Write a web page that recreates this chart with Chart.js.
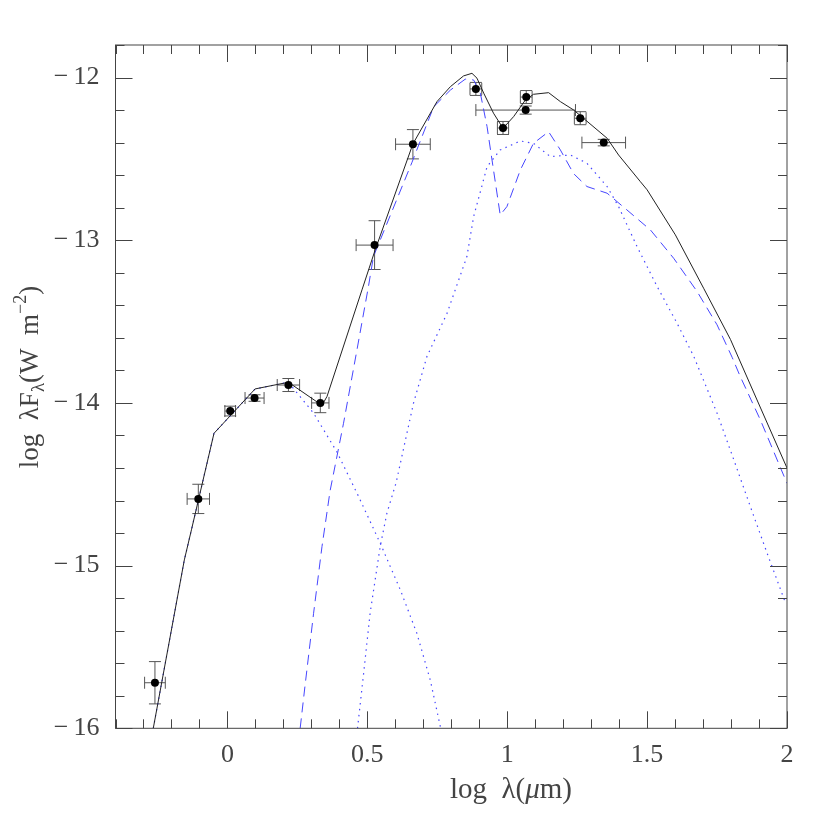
<!DOCTYPE html>
<html>
<head>
<meta charset="utf-8">
<script src="https://cdn.jsdelivr.net/npm/chart.js@4.4.0/dist/chart.umd.min.js"></script>
<style>
body { margin: 0; background: #fff; }
#wrap { width: 830px; height: 830px; }
</style>
</head>
<body>
<div id="wrap"><canvas id="sed" width="830" height="830"></canvas></div>
<script>
// observed photometry (log lambda, log lambda F_lambda) with errors
const obsX    = [-0.259, -0.104, 0.010, 0.097, 0.218, 0.332, 0.526, 0.663, 0.888, 0.985, 1.068, 1.066, 1.261, 1.345];
const obsY    = [-15.72, -14.59, -14.05, -13.97, -13.89, -14.00, -13.03, -12.41, -12.07, -12.31, -12.12, -12.20, -12.25, -12.40];
const obsXErr = [0.037, 0.040, 0.019, 0.034, 0.040, 0.031, 0.066, 0.062, 0.021, 0.020, 0.021, 0.178, 0.021, 0.078];
const obsYErr = [0.13, 0.09, 0.03, 0.02, 0.04, 0.06, 0.15, 0.09, 0.04, 0.04, 0.04, 0.025, 0.04, 0.02];

// total model (solid)
const totX = [-0.265, -0.154, -0.128, -0.048, 0.099, 0.218, 0.338, 0.356, 0.481, 0.528, 0.663, 0.749, 0.797, 0.844, 0.874, 0.892, 0.916, 0.951, 0.985, 1.023, 1.065, 1.094, 1.148, 1.19, 1.237, 1.357, 1.398, 1.476, 1.5, 1.601, 1.702, 1.798, 1.893, 2.0];
const totY = [-16.0, -14.965, -14.776, -14.187, -13.914, -13.873, -14.015, -13.96, -13.305, -13.06, -12.408, -12.148, -12.056, -11.99, -11.974, -12.004, -12.096, -12.219, -12.312, -12.24, -12.138, -12.103, -12.093, -12.148, -12.199, -12.373, -12.476, -12.64, -12.69, -12.967, -13.295, -13.61, -13.982, -14.40];

// dashed component
const dashX = [0.26, 0.277, 0.308, 0.338, 0.367, 0.415, 0.463, 0.504, 0.522, 0.659, 0.737, 0.797, 0.85, 0.88, 0.904, 0.928, 0.951, 0.975, 0.999, 1.047, 1.094, 1.148, 1.19, 1.237, 1.285, 1.357, 1.428, 1.512, 1.595, 1.679, 1.75, 1.804, 1.833, 1.905, 2.0];
const dashY = [-16.0, -15.744, -15.293, -14.883, -14.54, -14.125, -13.674, -13.285, -13.1, -12.524, -12.18, -12.077, -12.01, -12.015, -12.096, -12.302, -12.568, -12.845, -12.793, -12.568, -12.404, -12.333, -12.445, -12.59, -12.67, -12.711, -12.814, -12.937, -13.111, -13.316, -13.52, -13.72, -13.838, -14.105, -14.494];

// dotted: stellar photosphere
const photX = [-0.265, -0.154, -0.128, -0.048, 0.099, 0.218, 0.308, 0.391, 0.469, 0.546, 0.618, 0.677, 0.725, 0.761];
const photY = [-16.0, -14.965, -14.776, -14.187, -13.914, -13.873, -14.063, -14.3, -14.576, -14.862, -15.149, -15.416, -15.703, -15.99];

// dotted: dust
const dustX = [0.465, 0.487, 0.51, 0.546, 0.57, 0.603, 0.665, 0.713, 0.785, 0.856, 0.88, 0.928, 0.975, 1.047, 1.094, 1.154, 1.226, 1.285, 1.357, 1.398, 1.464, 1.536, 1.607, 1.667, 1.75, 1.81, 1.869, 1.929, 1.995];
const dustY = [-16.0, -15.66, -15.293, -14.883, -14.678, -14.49, -14.002, -13.715, -13.449, -13.1, -12.855, -12.548, -12.445, -12.39, -12.404, -12.486, -12.476, -12.527, -12.67, -12.793, -13.039, -13.285, -13.51, -13.715, -14.063, -14.35, -14.637, -14.924, -15.231];

// axis ticks
const xMajor = [0, 0.5, 1, 1.5, 2];
const yMajor = [-16, -15, -14, -13, -12];

const pts = (xs, ys) => xs.map((x, i) => ({ x: x, y: ys[i] }));
const blue = 'rgb(70,70,255)';
const serif = '"Liberation Serif", "DejaVu Serif", serif';

// error bars under the points
const errorBars = {
    id: 'errorBars',
    beforeDatasetsDraw(chart) {
        const ctx = chart.ctx;
        const xs = chart.scales.x, ys = chart.scales.y;
        const cap = 6;
        ctx.save();
        ctx.strokeStyle = '#555';
        ctx.lineWidth = 1;
        ctx.beginPath();
        obsX.forEach((x, i) => {
            const px = xs.getPixelForValue(x), py = ys.getPixelForValue(obsY[i]);
            const x0 = xs.getPixelForValue(x - obsXErr[i]), x1 = xs.getPixelForValue(x + obsXErr[i]);
            const y0 = ys.getPixelForValue(obsY[i] - obsYErr[i]), y1 = ys.getPixelForValue(obsY[i] + obsYErr[i]);
            ctx.moveTo(x0, py); ctx.lineTo(x1, py);
            ctx.moveTo(x0, py - cap); ctx.lineTo(x0, py + cap);
            ctx.moveTo(x1, py - cap); ctx.lineTo(x1, py + cap);
            ctx.moveTo(px, y0); ctx.lineTo(px, y1);
            ctx.moveTo(px - cap, y0); ctx.lineTo(px + cap, y0);
            ctx.moveTo(px - cap, y1); ctx.lineTo(px + cap, y1);
        });
        ctx.stroke();
        ctx.restore();
    }
};

function drawPieces(ctx, pieces, cx, baseY) {
    let total = 0;
    pieces.forEach(p => { ctx.font = p[1]; total += ctx.measureText(p[0]).width; });
    let u = cx - total / 2;
    pieces.forEach(p => {
        ctx.font = p[1];
        ctx.fillText(p[0], u, baseY + p[2]);
        u += ctx.measureText(p[0]).width;
    });
}

// box, inward ticks on four sides, axis titles
const frame = {
    id: 'frame',
    afterDraw(chart) {
        const ctx = chart.ctx;
        const a = chart.chartArea;
        const xs = chart.scales.x, ys = chart.scales.y;
        ctx.save();
        ctx.strokeStyle = '#444';
        ctx.lineWidth = 1;
        ctx.strokeRect(a.left, a.top, a.right - a.left, a.bottom - a.top);
        ctx.beginPath();
        for (let i = 0; i <= 24; i++) {
            const v = -0.4 + i * 0.1;
            const major = Math.abs(v * 2 - Math.round(v * 2)) < 1e-6;
            const len = major ? 17 : 9;
            const px = Math.round(xs.getPixelForValue(v)) + 0.5;
            ctx.moveTo(px, a.bottom); ctx.lineTo(px, a.bottom - len);
            ctx.moveTo(px, a.top); ctx.lineTo(px, a.top + len);
        }
        for (let i = 0; i <= 21; i++) {
            const v = -16 + i * 0.2;
            const major = Math.abs(v - Math.round(v)) < 1e-6;
            const len = major ? 17 : 9;
            const py = Math.round(ys.getPixelForValue(v)) + 0.5;
            ctx.moveTo(a.left, py); ctx.lineTo(a.left + len, py);
            ctx.moveTo(a.right, py); ctx.lineTo(a.right - len, py);
        }
        ctx.stroke();

        ctx.fillStyle = '#444';
        ctx.textBaseline = 'alphabetic';
        ctx.textAlign = 'left';
        drawPieces(ctx, [
            ['log  \u03bb(', '29px ' + serif, 0],
            ['\u03bc', 'italic 29px ' + serif, 0],
            ['m)', '29px ' + serif, 0]
        ], 511, 798);

        ctx.translate(38, 377);
        ctx.rotate(-Math.PI / 2);
        drawPieces(ctx, [
            ['log  \u03bbF', '27px ' + serif, 0],
            ['\u03bb', '19px ' + serif, 6],
            ['(W  m', '27px ' + serif, 0],
            ['\u22122', '18px ' + serif, -12],
            [')', '27px ' + serif, 0]
        ], 0, 0);
        ctx.restore();
    }
};

new Chart(document.getElementById('sed'), {
    type: 'scatter',
    data: {
        datasets: [
            {
                label: 'observed',
                data: pts(obsX, obsY),
                pointRadius: 4,
                pointBackgroundColor: '#000',
                pointBorderColor: '#000',
                pointBorderWidth: 0,
                showLine: false
            },
            {
                label: 'total',
                data: pts(totX, totY),
                showLine: true,
                borderColor: '#222',
                borderWidth: 1,
                pointRadius: 0,
                tension: 0
            },
            {
                label: 'dashed',
                data: pts(dashX, dashY),
                showLine: true,
                borderColor: blue,
                borderWidth: 1,
                borderDash: [10, 6],
                pointRadius: 0,
                tension: 0
            },
            {
                label: 'photosphere',
                data: pts(photX, photY),
                showLine: true,
                borderColor: blue,
                borderWidth: 1.2,
                borderDash: [1.5, 4.5],
                pointRadius: 0,
                tension: 0
            },
            {
                label: 'dust',
                data: pts(dustX, dustY),
                showLine: true,
                borderColor: blue,
                borderWidth: 1.2,
                borderDash: [1.5, 4.5],
                pointRadius: 0,
                tension: 0
            }
        ]
    },
    options: {
        responsive: false,
        animation: false,
        layout: { padding: { top: 45, right: 43, left: 0, bottom: 0 } },
        plugins: { legend: { display: false }, tooltip: { enabled: false } },
        scales: {
            x: {
                type: 'linear',
                min: -0.4,
                max: 2,
                grid: { display: false, drawTicks: false },
                border: { display: false },
                afterFit(scale) { scale.height = 101.7; },
                afterBuildTicks(scale) { scale.ticks = xMajor.map(v => ({ value: v })); },
                ticks: {
                    padding: 11,
                    color: '#444',
                    font: { family: serif, size: 26 },
                    maxRotation: 0,
                    callback: v => String(v)
                }
            },
            y: {
                type: 'linear',
                min: -16,
                max: -11.8,
                grid: { display: false, drawTicks: false },
                border: { display: false },
                afterFit(scale) { scale.width = 115.5; },
                afterBuildTicks(scale) { scale.ticks = yMajor.map(v => ({ value: v })); },
                ticks: {
                    padding: 16,
                    color: '#444',
                    font: { family: serif, size: 26 },
                    callback: v => String(v).replace('-', '\u2212\u2009')
                }
            }
        }
    },
    plugins: [errorBars, frame]
});
</script>
</body>
</html>
